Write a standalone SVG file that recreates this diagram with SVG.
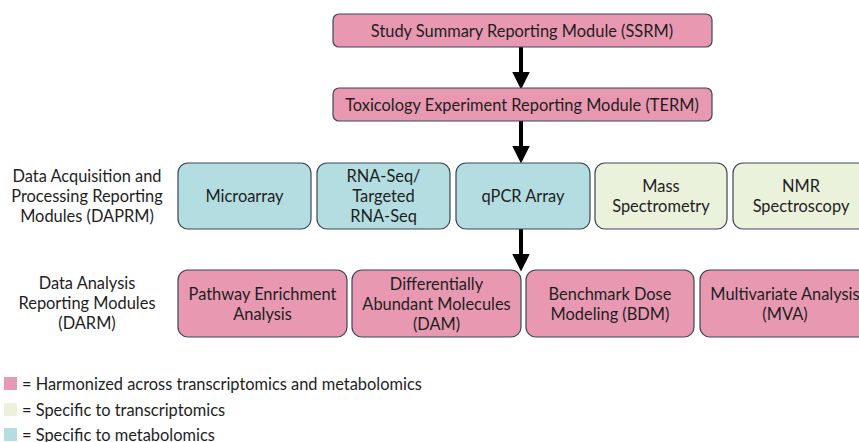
<svg xmlns="http://www.w3.org/2000/svg" width="859" height="442" viewBox="0 0 859 442">
  <style>
    text { font-family: Lato, "Open Sans", "Liberation Sans", sans-serif; font-size: 16.4px; fill: #1e1e1e; text-anchor: middle; }
    .box { stroke: #3b4656; stroke-width: 1.2; }
    .pink { fill: #e899b1; }
    .blue { fill: #b3dde1; }
    .green { fill: #eaf2dc; }
    .legend { text-anchor: start; }
    .conn { stroke: #000; stroke-width: 4; fill: none; }
  </style>
  <defs>
    <marker id="head" viewBox="0 0 10 10" refX="8" refY="5" markerWidth="4.4" markerHeight="4.4" markerUnits="strokeWidth" orient="auto">
      <path d="M0,0 L10,5 L0,10 z" fill="#000"/>
    </marker>
  </defs>
  <rect width="859" height="442" fill="#fff"/>

  <!-- connectors -->
  <g id="connectors">
    <line class="conn" x1="521" y1="47" x2="521" y2="86" marker-end="url(#head)"/>
    <line class="conn" x1="521" y1="121" x2="521" y2="160" marker-end="url(#head)"/>
    <line class="conn" x1="521" y1="229" x2="521" y2="268" marker-end="url(#head)"/>
  </g>

  <!-- top modules -->
  <g id="ssrm">
    <rect class="box pink" x="333" y="14" width="379" height="33" rx="6"/>
    <text x="522" y="36.5">Study Summary Reporting Module (SSRM)</text>
  </g>
  <g id="term">
    <rect class="box pink" x="333" y="88" width="379" height="33" rx="6"/>
    <text x="522" y="110.5">Toxicology Experiment Reporting Module (TERM)</text>
  </g>

  <!-- row labels -->
  <g id="daprm-label">
    <text x="87" y="181.5">Data Acquisition and</text>
    <text x="87" y="201.5">Processing Reporting</text>
    <text x="87" y="221.5">Modules (DAPRM)</text>
  </g>
  <g id="darm-label">
    <text x="87" y="288.5">Data Analysis</text>
    <text x="87" y="308.5">Reporting Modules</text>
    <text x="87" y="328.5">(DARM)</text>
  </g>

  <!-- data acquisition row -->
  <g id="microarray">
    <rect class="box blue" x="178" y="163" width="133" height="66" rx="10"/>
    <text x="244.5" y="201.5">Microarray</text>
  </g>
  <g id="rnaseq">
    <rect class="box blue" x="317" y="163" width="133" height="66" rx="10"/>
    <text x="383.5" y="181.5">RNA-Seq/</text>
    <text x="383.5" y="201.5">Targeted</text>
    <text x="383.5" y="221.5">RNA-Seq</text>
  </g>
  <g id="qpcr">
    <rect class="box blue" x="456" y="163" width="134" height="66" rx="10"/>
    <text x="523" y="201.5">qPCR Array</text>
  </g>
  <g id="mass-spec">
    <rect class="box green" x="595" y="163" width="132" height="66" rx="10"/>
    <text x="661" y="191.5">Mass</text>
    <text x="661" y="211.5">Spectrometry</text>
  </g>
  <g id="nmr">
    <rect class="box green" x="733" y="163" width="136" height="66" rx="10"/>
    <text x="801" y="191.5">NMR</text>
    <text x="801" y="211.5">Spectroscopy</text>
  </g>

  <!-- data analysis row -->
  <g id="pathway">
    <rect class="box pink" x="178" y="270" width="169" height="67" rx="10"/>
    <text x="262.5" y="299.5">Pathway Enrichment</text>
    <text x="262.5" y="319.5">Analysis</text>
  </g>
  <g id="dam">
    <rect class="box pink" x="352" y="270" width="169" height="67" rx="10"/>
    <text x="436.5" y="289.5">Differentially</text>
    <text x="436.5" y="309.5">Abundant Molecules</text>
    <text x="436.5" y="329.5">(DAM)</text>
  </g>
  <g id="bdm">
    <rect class="box pink" x="526" y="270" width="168" height="67" rx="10"/>
    <text x="610" y="299.5">Benchmark Dose</text>
    <text x="610" y="319.5">Modeling (BDM)</text>
  </g>
  <g id="mva">
    <rect class="box pink" x="700" y="270" width="170" height="67" rx="10"/>
    <text x="785" y="299.5">Multivariate Analysis</text>
    <text x="785" y="319.5">(MVA)</text>
  </g>

  <!-- legend -->
  <g id="legend">
    <rect class="pink" x="4" y="377" width="13" height="13"/>
    <text class="legend" x="22" y="389.5">= Harmonized across transcriptomics and metabolomics</text>
    <rect class="green" x="4" y="403" width="13" height="13"/>
    <text class="legend" x="22" y="415.5">= Specific to transcriptomics</text>
    <rect class="blue" x="4" y="428" width="13" height="13"/>
    <text class="legend" x="22" y="440.5">= Specific to metabolomics</text>
  </g>
</svg>
